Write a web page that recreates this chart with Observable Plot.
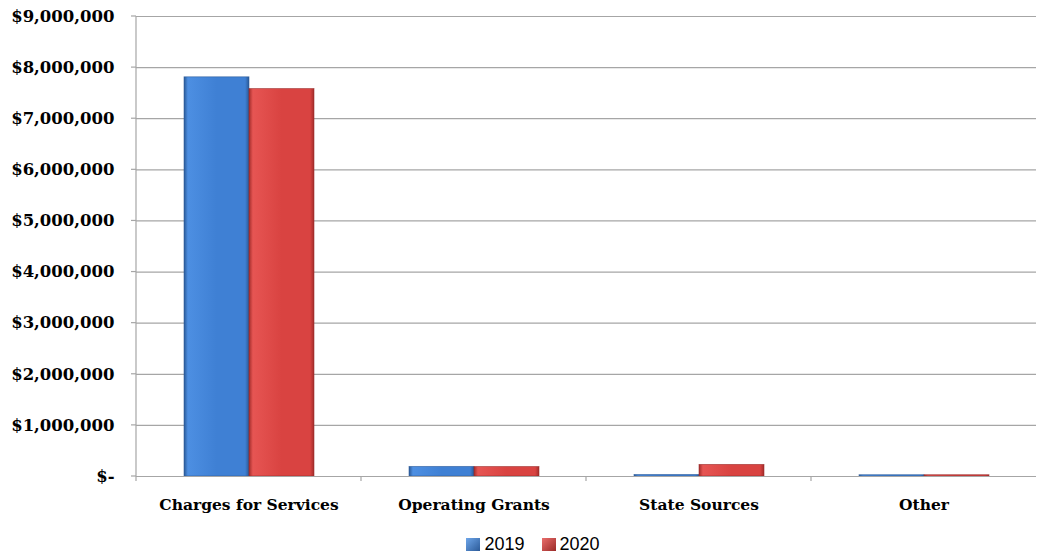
<!DOCTYPE html>
<html>
<head>
<meta charset="utf-8">
<script src="https://cdn.jsdelivr.net/npm/d3@7"></script>
<script src="https://cdn.jsdelivr.net/npm/@observablehq/plot@0.6"></script>
<style>
  body { margin: 0; background: #fff; }
  #legend { display: flex; justify-content: center; align-items: center;
    font-family: "Liberation Sans", "Open Sans", sans-serif; font-size: 18px; color: #000;
    height: 31px; box-sizing: border-box; padding-left: 29px; padding-top: 8px; width: 1037px; }
  .sw { width: 14px; height: 13px; display: inline-block; margin-right: 4px; }
</style>
</head>
<body>
<div id="chart"></div>
<div id="legend"></div>
<script>
const categories = ["Charges for Services", "Operating Grants", "State Sources", "Other"];
const years = ["2019", "2020"];
const values2019 = [7810000, 188000, 30000, 25000];
const values2020 = [7580000, 185000, 227000, 25000];
const yTicks = [0, 1000000, 2000000, 3000000, 4000000, 5000000, 6000000, 7000000, 8000000, 9000000];

const data = [];
categories.forEach((c, i) => {
  data.push({category: c, year: "2019", value: values2019[i]});
  data.push({category: c, year: "2020", value: values2020[i]});
});

const fmt = v => v === 0 ? "$-" : "$" + d3.format(",")(v);
const serif = "'DejaVu Serif', serif";

const plot = Plot.plot({
  width: 1037,
  height: 525,
  marginLeft: 136,
  marginRight: 1,
  marginTop: 16,
  marginBottom: 49,
  style: {fontFamily: serif, fontSize: "15.5px", fontWeight: "bold", color: "#000", background: "#fff"},
  fx: {domain: categories, padding: 0, label: null, tickSize: 0, tickPadding: 22},
  x: {domain: years, axis: null, paddingInner: 0, paddingOuter: 0.705},
  y: {domain: [0, 9000000], ticks: yTicks, tickFormat: fmt, label: null, tickSize: 0, tickPadding: 22},
  marks: [
    Plot.gridY(yTicks, {stroke: "#a6a6a6", strokeOpacity: 1, strokeWidth: 1.2}),
    Plot.barY(data, {fx: "category", x: "year", y: "value",
      fill: d => "url(#grad" + d.year + ")",
      stroke: d => d.year === "2019" ? "#2b5a98" : "#9a2a28", strokeWidth: 0.8, strokeOpacity: 0.7}),
    Plot.ruleY([0], {stroke: "#a6a6a6", strokeWidth: 1.2})
  ]
});

const svg = d3.select(plot);
// larger y tick labels
svg.selectAll("[aria-label='y-axis tick label'] text").style("font-size", "16.5px");

const defs = svg.insert("defs", ":first-child");
function grad(id, edge, mid, light) {
  const g = defs.append("linearGradient").attr("id", id).attr("x1", 0).attr("x2", 1).attr("y1", 0).attr("y2", 0);
  [[0, edge], [0.06, light], [0.5, mid], [0.94, mid], [1, edge]].forEach(([o, c]) =>
    g.append("stop").attr("offset", o).attr("stop-color", c));
}
grad("grad2019", "#2a5996", "#3f80d4", "#4d8fe2");
grad("grad2020", "#a32d2b", "#d94341", "#e65553");

// axis decorations via the plot's own scales
const y = plot.scale("y");
const fx = plot.scale("fx");
const y0 = y.apply(0), yTop = y.apply(9000000);
const left = 136;
const deco = svg.append("g").attr("stroke", "#a6a6a6").attr("stroke-width", 1.2);
deco.append("line").attr("x1", left).attr("x2", left).attr("y1", yTop).attr("y2", y0 + 5);
yTicks.forEach(t => deco.append("line").attr("x1", left - 5).attr("x2", left).attr("y1", y.apply(t)).attr("y2", y.apply(t)));
categories.slice(1).forEach(c => {
  const bx = fx.apply(c);
  deco.append("line").attr("x1", bx).attr("x2", bx).attr("y1", y0).attr("y2", y0 + 5);
});

document.getElementById("chart").appendChild(plot);

const legend = document.getElementById("legend");
years.forEach((yr, i) => {
  const item = document.createElement("span");
  item.style.display = "inline-flex";
  item.style.alignItems = "center";
  item.style.marginLeft = i ? "17px" : "0";
  const sw = document.createElement("span");
  sw.className = "sw";
  sw.style.background = `linear-gradient(135deg, ${yr === "2019" ? "#6ea6ea, #2b5a98" : "#ea6e6c, #9a2a28"})`;
  item.appendChild(sw);
  item.appendChild(document.createTextNode(yr));
  legend.appendChild(item);
});
</script>
</body>
</html>
